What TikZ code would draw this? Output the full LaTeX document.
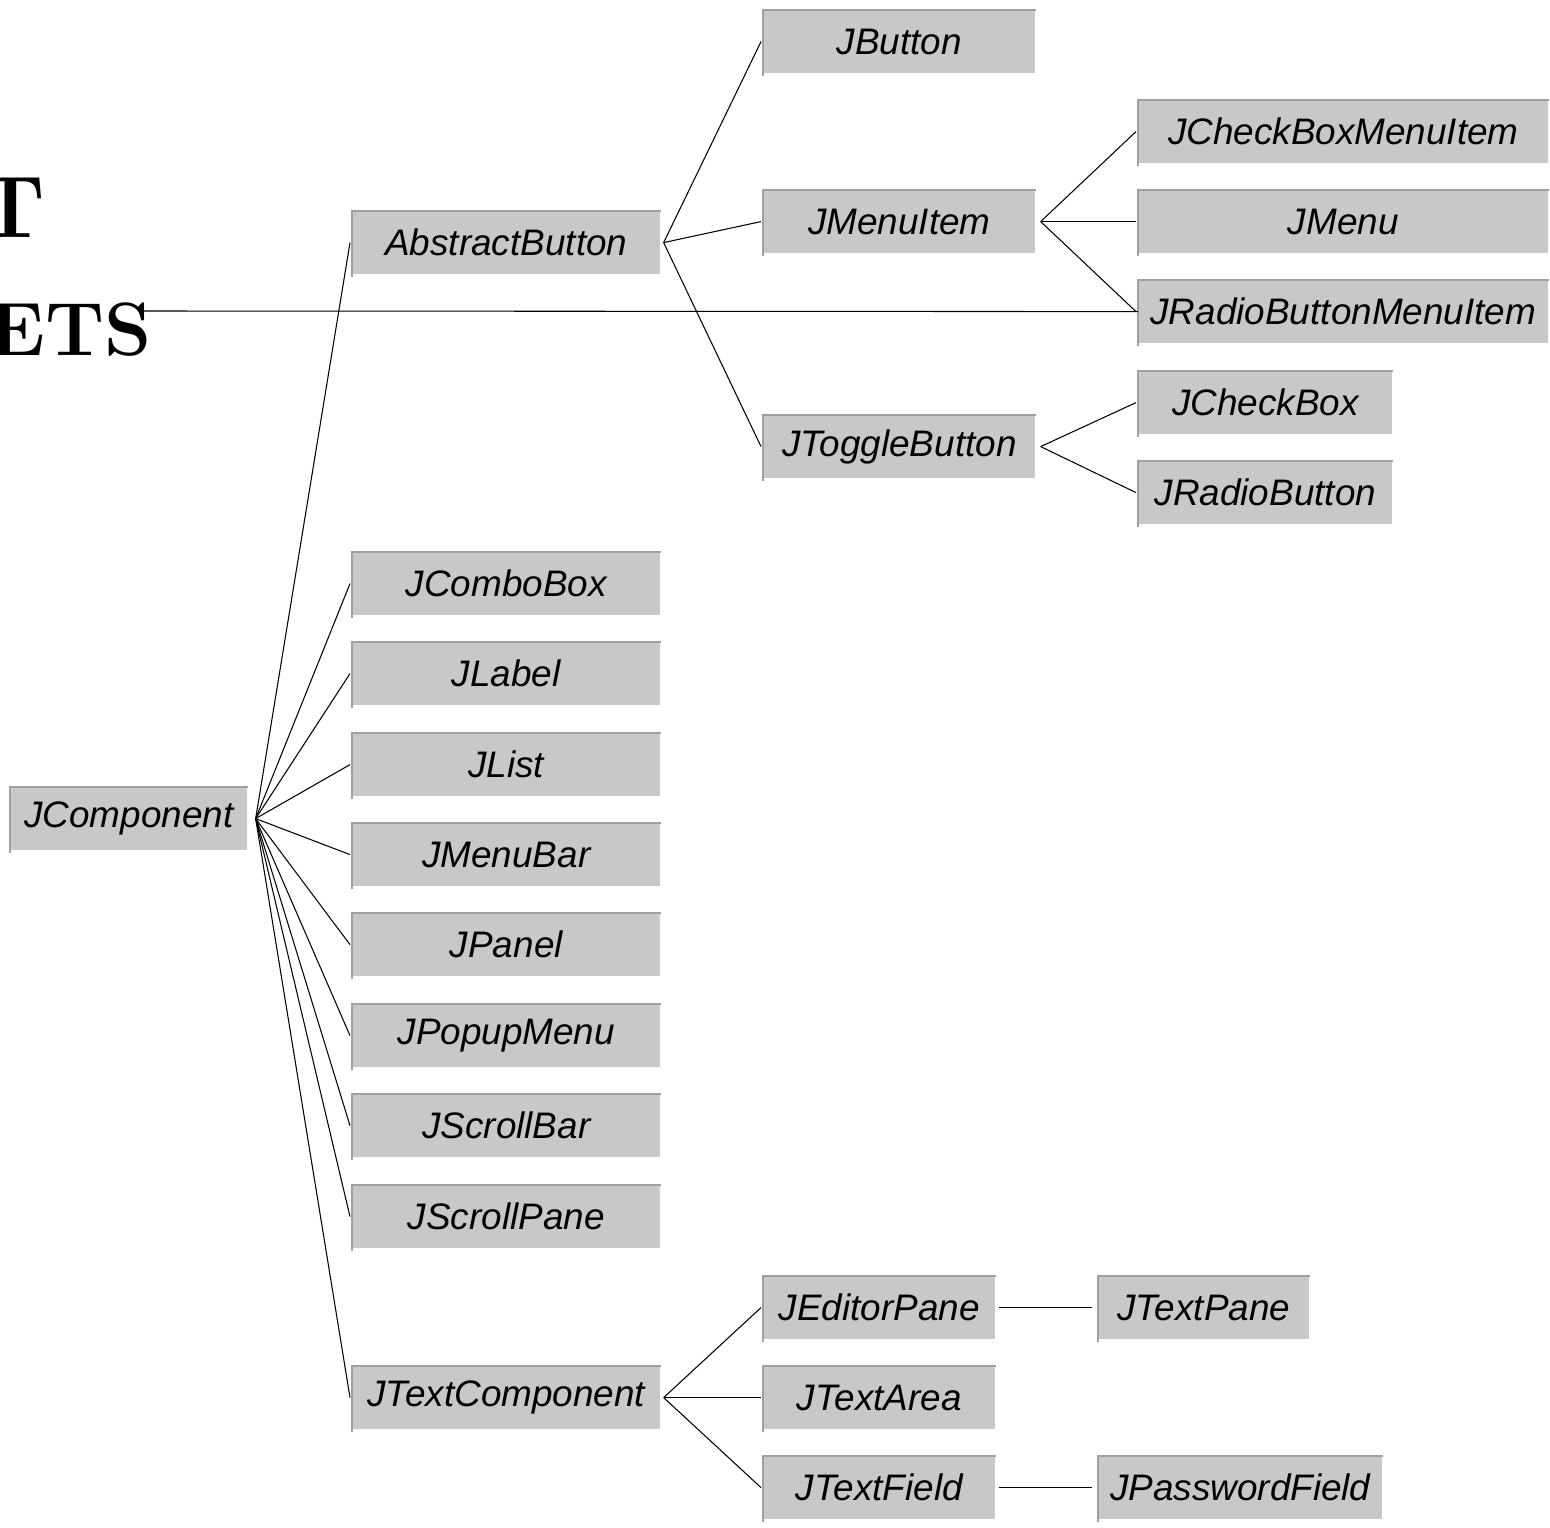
\documentclass[tikz,border=0pt]{standalone}
\usepackage{fontspec}
\newfontfamily\boxfontfam{Liberation Sans}
\definecolor{boxgray}{HTML}{C8C8C8}
\definecolor{edgegray}{HTML}{A0A0A0}
\begin{document}
\begin{tikzpicture}[x=0.02cm, y=-0.02cm,
  box/.style={fill=boxgray, inner sep=0pt, minimum height=1.25cm, anchor=north west,
    font=\boxfontfam\itshape\fontsize{21}{25}\selectfont},
  conn/.style={line width=0.6pt, black},
  title/.style={font=\bfseries, anchor=base east, inner sep=0pt}]
\useasboundingbox (0,0) rectangle (1550,1527);

% title fragments
\node[title, font=\bfseries\fontsize{50}{56}\selectfont] (t1) at (46,238) {T};
\node[title, font=\bfseries\fontsize{43}{48}\selectfont] (t2) at (152,355) {ETS};
\coordinate (tl) at (142,311);

% root
\node[box, minimum width=4.74cm] (jc) at (10,787) {JComponent};

% column 2
\node[box, minimum width=6.16cm] (ab)  at (352,211)  {AbstractButton};
\node[box, minimum width=6.16cm] (jcb) at (352,552)  {JComboBox};
\node[box, minimum width=6.16cm] (jl)  at (352,642)  {JLabel};
\node[box, minimum width=6.16cm] (jli) at (352,733)  {JList};
\node[box, minimum width=6.16cm] (jmb) at (352,823)  {JMenuBar};
\node[box, minimum width=6.16cm] (jp)  at (352,913)  {JPanel};
\node[box, minimum width=6.16cm] (jpm) at (352,1004) {JPopupMenu};
\node[box, minimum width=6.16cm] (jsb) at (352,1094) {JScrollBar};
\node[box, minimum width=6.16cm] (jsp) at (352,1185) {JScrollPane};
\node[box, minimum width=6.16cm] (jtc) at (352,1366) {JTextComponent};

% column 3
\node[box, minimum width=5.44cm] (jb)  at (763,10)   {JButton};
\node[box, minimum width=5.44cm] (jmi) at (763,190)  {JMenuItem};
\node[box, minimum width=5.44cm] (jtb) at (763,415)  {JToggleButton};
\node[box, minimum width=4.64cm] (jep) at (763,1276) {JEditorPane};
\node[box, minimum width=4.64cm] (jta) at (763,1366) {JTextArea};
\node[box, minimum width=4.64cm] (jtf) at (763,1456) {JTextField};

% column 4
\node[box, minimum width=8.2cm]  (jcbmi) at (1138,100) {JCheckBoxMenuItem};
\node[box, minimum width=8.2cm]  (jm)    at (1138,190) {JMenu};
\node[box, minimum width=8.2cm]  (jrbmi) at (1138,280) {JRadioButtonMenuItem};
\node[box, minimum width=5.08cm] (jchk)  at (1138,371) {JCheckBox};
\node[box, minimum width=5.08cm] (jrb)   at (1138,461) {JRadioButton};
\node[box, minimum width=4.22cm] (jtp)   at (1098,1276) {JTextPane};
\node[box, minimum width=5.68cm] (jpf)   at (1098,1456) {JPasswordField};

% box edges (top and left)
\foreach \n in {jc,ab,jcb,jl,jli,jmb,jp,jpm,jsb,jsp,jtc,jb,jmi,jtb,jep,jta,jtf,jcbmi,jm,jrbmi,jchk,jrb,jtp,jpf}{
  \draw[edgegray, line width=0.8pt] ([yshift=-0.06cm]\n.south west) -- (\n.north west) -- (\n.north east);
}

% title underline
\draw[conn] (tl) -- (jrbmi.west);

% connectors from JComponent
\foreach \c in {ab,jcb,jl,jli,jmb,jp,jpm,jsb,jsp,jtc}{
  \draw[conn] ([xshift=0.16cm]jc.east) -- ([xshift=-0.04cm]\c.west);
}
% AbstractButton
\foreach \c in {jb,jmi,jtb}{
  \draw[conn] ([xshift=0.06cm]ab.east) -- ([xshift=-0.04cm]\c.west);
}
% JMenuItem
\foreach \c in {jcbmi,jm,jrbmi}{
  \draw[conn] ([xshift=0.1cm]jmi.east) -- ([xshift=-0.04cm]\c.west);
}
% JToggleButton
\foreach \c in {jchk,jrb}{
  \draw[conn] ([xshift=0.1cm]jtb.east) -- ([xshift=-0.04cm]\c.west);
}
% JTextComponent
\foreach \c in {jep,jta,jtf}{
  \draw[conn] ([xshift=0.06cm]jtc.east) -- ([xshift=-0.04cm]\c.west);
}
\draw[conn] ([xshift=0.06cm]jep.east) -- ([xshift=-0.12cm]jtp.west);
\draw[conn] ([xshift=0.06cm]jtf.east) -- ([xshift=-0.12cm]jpf.west);
\end{tikzpicture}
\end{document}
